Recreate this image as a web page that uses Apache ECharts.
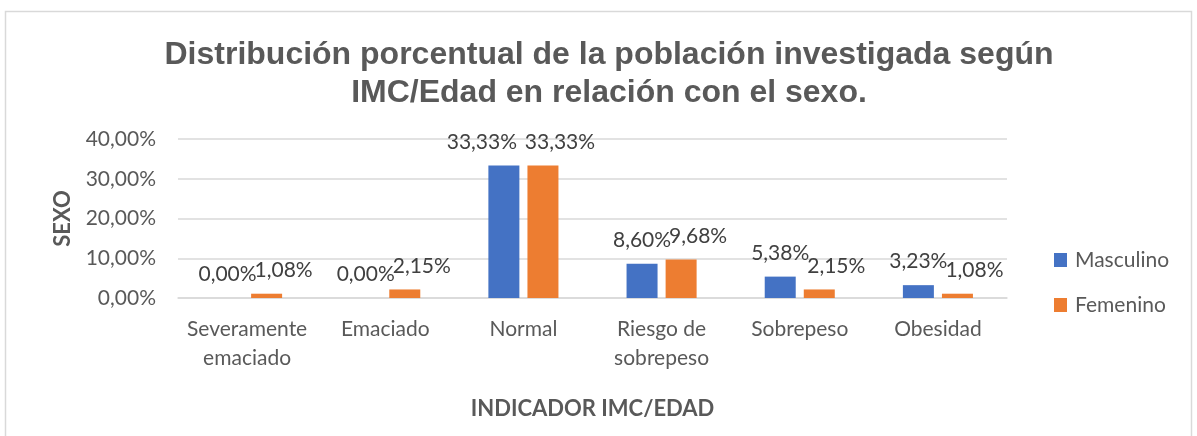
<!DOCTYPE html>
<html><head><meta charset="utf-8">
<script src="https://cdn.jsdelivr.net/npm/echarts@6/dist/echarts.min.js"></script>
<style>html,body{margin:0;padding:0;background:#fff}#c{width:1197px;height:436px}</style>
</head><body><div id="c"></div>
<script>
const categories = ['Severamente\nemaciado', 'Emaciado', 'Normal', 'Riesgo de\nsobrepeso', 'Sobrepeso', 'Obesidad'];
const masculino = [0.00, 0.00, 33.33, 8.60, 5.38, 3.23];
const femenino = [1.08, 2.15, 33.33, 9.68, 2.15, 1.08];
const yTicks = [0, 10, 20, 30, 40];

const fmt = v => v.toFixed(2).replace('.', ',') + '%';
const font = 'Lato';
const chart = echarts.init(document.getElementById('c'));

const mascData = masculino.map((v, i) => i === 2 ? {value: v, label: {offset: [-22, 0]}} : v);

chart.setOption({
  animation: false,
  graphic: [{type: 'rect', shape: {x: 5.5, y: 11.5, width: 1186, height: 440}, style: {fill: 'none', stroke: '#d9d9d9', lineWidth: 1.5}}],
  title: {
    text: 'Distribución porcentual de la población investigada según\nIMC/Edad en relación con el sexo.',
    left: 604, top: 31, textAlign: 'center',
    textStyle: {fontFamily: 'Liberation Sans', fontWeight: 'bold', fontSize: 32, lineHeight: 38, color: '#595959'}
  },
  legend: {
    orient: 'vertical', left: 1049, top: 244, itemWidth: 13, itemHeight: 14, itemGap: 23,
    icon: 'rect',
    textStyle: {fontFamily: font, fontSize: 21, lineHeight: 22, color: '#595959', padding: [0, 0, 0, 3]},
    data: ['Masculino', 'Femenino']
  },
  grid: {left: 178, right: 190, top: 139, bottom: 138, containLabel: false},
  xAxis: {
    type: 'category', data: categories,
    name: 'INDICADOR IMC/EDAD', nameLocation: 'middle', nameGap: 100,
    nameTextStyle: {fontFamily: font, fontWeight: 'bold', fontSize: 22, color: '#595959'},
    axisLine: {lineStyle: {color: '#d9d9d9', width: 1.5}},
    axisTick: {show: false},
    axisLabel: {fontFamily: font, fontSize: 21, lineHeight: 29, color: '#595959', margin: 17, interval: 0}
  },
  yAxis: {
    type: 'value', min: yTicks[0], max: yTicks[yTicks.length - 1], interval: 10,
    name: 'SEXO', nameLocation: 'middle', nameGap: 104, nameRotate: 90,
    nameTextStyle: {fontFamily: font, fontWeight: 'bold', fontSize: 22, color: '#595959'},
    axisLine: {show: false}, axisTick: {show: false},
    splitLine: {lineStyle: {color: '#d9d9d9', width: 1.5}},
    axisLabel: {fontFamily: font, fontSize: 21, color: '#595959', margin: 22, formatter: v => fmt(v)}
  },
  series: [
    {name: 'Masculino', type: 'bar', data: mascData, barWidth: 31, barGap: '26%',
     itemStyle: {color: '#4472C4'},
     label: {show: true, position: 'top', distance: 13, fontFamily: font, fontSize: 21, color: '#404040', formatter: p => fmt(p.value)}},
    {name: 'Femenino', type: 'bar', data: femenino, barWidth: 31,
     itemStyle: {color: '#ED7D31'},
     label: {show: true, position: 'top', distance: 13, offset: [17, 0], fontFamily: font, fontSize: 21, color: '#404040', formatter: p => fmt(p.value)}}
  ]
});
</script></body></html>
